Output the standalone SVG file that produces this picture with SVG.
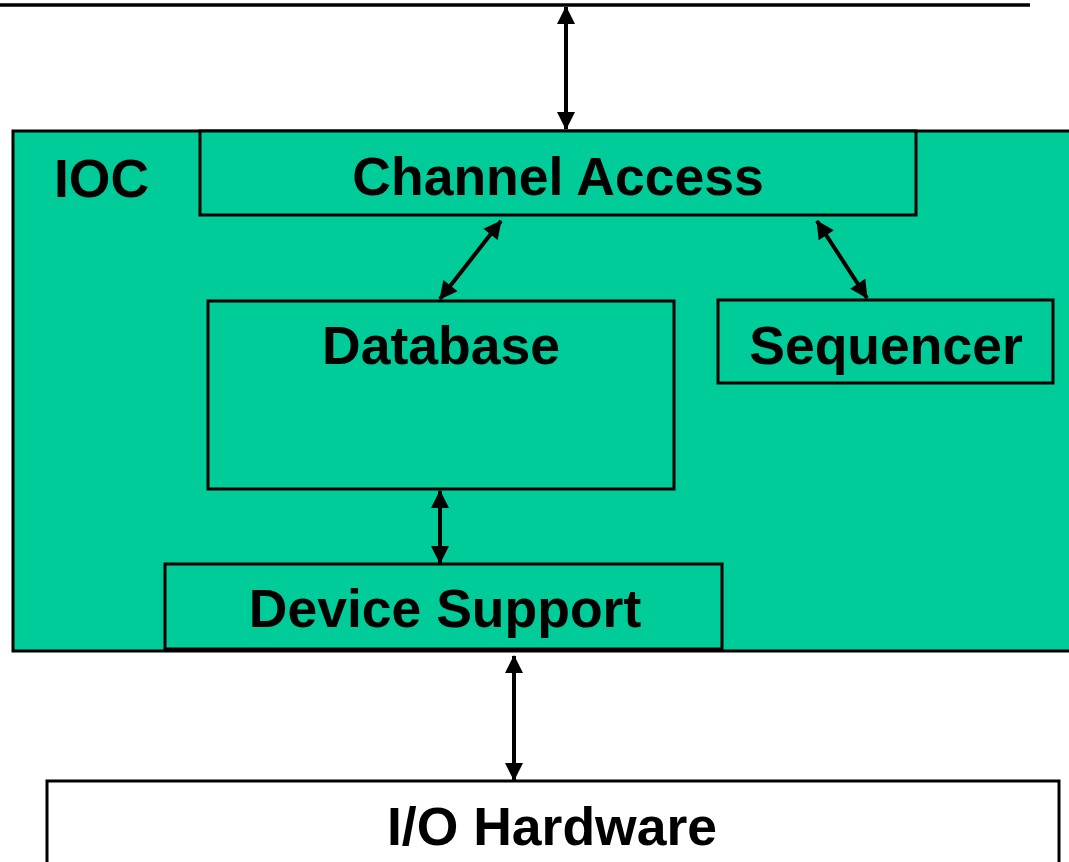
<svg xmlns="http://www.w3.org/2000/svg" width="1069" height="862" viewBox="0 0 1069 862">
<defs>
<style>
.box{fill:#00CC99;stroke:#000;stroke-width:3}
.wbox{fill:#fff;stroke:#000;stroke-width:3}
.lbl{font-family:"Liberation Sans",Arial,sans-serif;font-weight:bold;font-size:53.5px;fill:#000}
.conn{stroke:#000;stroke-width:4;fill:none;marker-start:url(#ah);marker-end:url(#ah)}
</style>
<marker id="ah" markerUnits="userSpaceOnUse" markerWidth="18" markerHeight="18" viewBox="0 0 18 18" refX="17" refY="9" orient="auto-start-reverse" overflow="visible">
<path d="M0,0 L18,9 L0,18 z" fill="#000"/>
</marker>
</defs>
<rect width="1069" height="862" fill="#fff"/>
<g id="network">
<line x1="0" y1="5" x2="1030" y2="5" stroke="#000" stroke-width="3.5"/>
</g>
<g id="ioc">
<rect class="box" x="13" y="131" width="1070" height="520" stroke-width="3.5"/>
<text class="lbl" x="54" y="197">IOC</text>
</g>
<g id="channel-access">
<rect class="box" x="200" y="131" width="716" height="84"/>
<text class="lbl" x="558" y="195" text-anchor="middle">Channel Access</text>
</g>
<g id="database">
<rect class="box" x="208" y="301" width="466" height="188"/>
<text class="lbl" x="441" y="364" text-anchor="middle">Database</text>
</g>
<g id="sequencer">
<rect class="box" x="718" y="300" width="335" height="83"/>
<text class="lbl" x="886" y="364" text-anchor="middle">Sequencer</text>
</g>
<g id="device-support">
<rect class="box" x="165" y="564" width="557" height="85"/>
<text class="lbl" x="445" y="627" text-anchor="middle">Device Support</text>
</g>
<g id="io-hardware">
<rect class="wbox" x="47" y="781" width="1012" height="100"/>
<text class="lbl" x="552" y="845" text-anchor="middle">I/O Hardware</text>
</g>
<g id="connectors">
<line class="conn" x1="566" y1="7" x2="566" y2="129"/>
<line class="conn" x1="501" y1="221" x2="440" y2="299" stroke-width="3.5"/>
<line class="conn" x1="817" y1="221" x2="867" y2="298" stroke-width="3.5"/>
<line class="conn" x1="440" y1="491" x2="440" y2="563"/>
<line class="conn" x1="514" y1="656" x2="514" y2="780"/>
</g>
</svg>
